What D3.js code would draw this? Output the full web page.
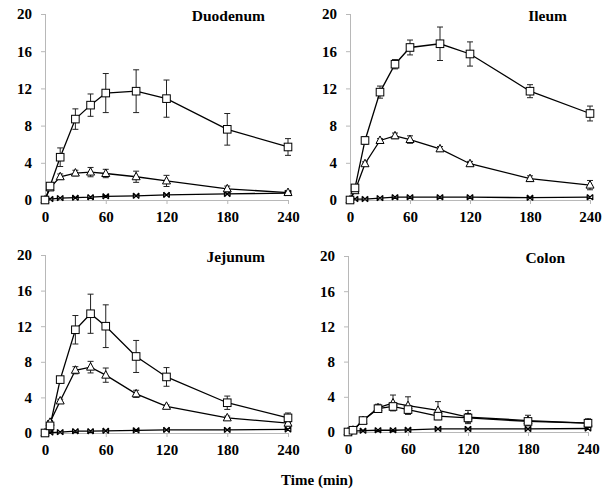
<!DOCTYPE html>
<html>
<head>
<meta charset="utf-8">
<script src="https://cdn.jsdelivr.net/npm/d3@7"></script>
<style>
  body { margin: 0; background: #fff; }
  svg text { font-family: "Liberation Serif", "Times New Roman", serif; font-weight: bold; }
</style>
</head>
<body>
<div id="graph"></div>
<script>
const times = [0, 5, 15, 30, 45, 60, 90, 120, 180, 240];
const xTicks = [0, 60, 120, 180, 240];
const yTicks = [0, 4, 8, 12, 16, 20];
const panelNames = ['Duodenum', 'Ileum', 'Jejunum', 'Colon'];

const duodenumSquare    = [0, 1.5, 4.6, 8.7, 10.2, 11.5, 11.7, 10.9, 7.6, 5.7];
const duodenumSquareErr = [0, 0.3, 1.0, 1.1, 1.2, 2.1, 2.3, 2.0, 1.7, 0.9];
const duodenumTri       = [0, 1.3, 2.5, 2.9, 3.0, 2.85, 2.5, 2.05, 1.2, 0.8];
const duodenumTriErr    = [0, 0.2, 0.3, 0.3, 0.5, 0.45, 0.6, 0.6, 0.3, 0.1];
const duodenumStar      = [0, 0.1, 0.2, 0.25, 0.3, 0.4, 0.45, 0.55, 0.65, 0.75];

const ileumSquare    = [0, 1.3, 6.4, 11.6, 14.6, 16.4, 16.8, 15.7, 11.7, 9.3];
const ileumSquareErr = [0, 0.2, 0.4, 0.65, 0.5, 0.8, 1.8, 1.3, 0.7, 0.8];
const ileumTri       = [0, 1.0, 3.9, 6.4, 6.9, 6.5, 5.5, 3.9, 2.3, 1.6];
const ileumTriErr    = [0, 0.1, 0.2, 0.2, 0.3, 0.4, 0.25, 0.25, 0.3, 0.5];
const ileumStar      = [0, 0.1, 0.1, 0.2, 0.3, 0.3, 0.3, 0.3, 0.25, 0.3];

const jejunumSquare    = [0, 0.8, 6.0, 11.6, 13.4, 12.0, 8.6, 6.3, 3.4, 1.7];
const jejunumSquareErr = [0, 0.5, 0.3, 1.6, 2.2, 2.4, 1.8, 1.05, 0.75, 0.55];
const jejunumTri       = [0, 1.2, 3.6, 7.05, 7.4, 6.5, 4.4, 3.0, 1.7, 1.1];
const jejunumTriErr    = [0, 0.2, 0.2, 0.4, 0.65, 0.8, 0.4, 0.15, 0.2, 0.3];
const jejunumStar      = [0, 0.05, 0.1, 0.2, 0.2, 0.25, 0.3, 0.35, 0.35, 0.4];

const colonSquare    = [0, 0.2, 1.3, 2.65, 2.9, 2.55, 1.8, 1.6, 1.2, 1.0];
const colonSquareErr = [0, 0.1, 0.1, 0.3, 0.4, 0.45, 0.4, 0.5, 0.3, 0.3];
const colonTri       = [0, 0.2, 1.3, 2.75, 3.3, 3.0, 2.45, 1.7, 1.3, 1.0];
const colonTriErr    = [0, 0.1, 0.1, 0.4, 0.9, 1.0, 1.0, 0.75, 0.6, 0.5];
const colonStar      = [0, 0.1, 0.15, 0.2, 0.2, 0.25, 0.35, 0.35, 0.35, 0.4];

const panelData = [
  { square: duodenumSquare, squareErr: duodenumSquareErr, tri: duodenumTri, triErr: duodenumTriErr, star: duodenumStar },
  { square: ileumSquare, squareErr: ileumSquareErr, tri: ileumTri, triErr: ileumTriErr, star: ileumStar },
  { square: jejunumSquare, squareErr: jejunumSquareErr, tri: jejunumTri, triErr: jejunumTriErr, star: jejunumStar },
  { square: colonSquare, squareErr: colonSquareErr, tri: colonTri, triErr: colonTriErr, star: colonStar }
];

// pixel frame of each panel: [x0, x1, yBottom, yTop]
const frames = [
  [45, 288, 200, 14],
  [350, 590, 200, 14],
  [45, 288, 433, 255],
  [348, 588, 432, 256]
];

const svg = d3.select('#graph')
  .append('svg')
    .attr('width', 608)
    .attr('height', 489);

panelNames.forEach((name, i) => {
  const f = frames[i], d = panelData[i];
  const x = d3.scaleLinear().domain([0, 240]).range([f[0], f[1]]);
  const y = d3.scaleLinear().domain([0, 20]).range([f[2], f[3]]);
  const g = svg.append('g');

  const xAxis = g.append('g')
    .attr('transform', `translate(0,${f[2]})`)
    .call(d3.axisBottom(x).tickValues(xTicks).tickSize(4).tickPadding(7));
  const yAxis = g.append('g')
    .attr('transform', `translate(${f[0]},0)`)
    .call(d3.axisLeft(y).tickValues(yTicks).tickSize(4).tickPadding(9));

  [xAxis, yAxis].forEach(a => {
    a.attr('font-family', null).attr('font-size', null);
    a.select('.domain').attr('stroke', '#b8b8b8').attr('stroke-width', 1);
    a.selectAll('.tick line').attr('stroke', '#b8b8b8');
    a.selectAll('.tick text').attr('fill', '#000').style('font-size', '15px');
  });
  yAxis.select('.domain').attr('d', `M0.5,${f[2]}V${f[3]}`);
  xAxis.select('.domain').attr('d', `M${f[0]},0.5H${f[1]}`);

  g.append('text')
    .attr('x', f[1] - 23)
    .attr('y', f[3] + 7)
    .attr('text-anchor', 'end')
    .style('font-size', '15.5px')
    .text(name);

  const line = d3.line().x((v, j) => x(times[j])).y(v => y(v));
  [d.star, d.tri, d.square].forEach(s => {
    g.append('path').attr('d', line(s))
      .attr('fill', 'none').attr('stroke', '#000').attr('stroke-width', 1.3);
  });

  // error bars
  [[d.tri, d.triErr], [d.square, d.squareErr]].forEach(([s, e]) => {
    s.forEach((v, j) => {
      if (!e[j]) return;
      const cx = x(times[j]);
      g.append('path')
        .attr('d', `M${cx},${y(v - e[j])}V${y(v + e[j])}M${cx - 3},${y(v + e[j])}H${cx + 3}M${cx - 3},${y(v - e[j])}H${cx + 3}`)
        .attr('fill', 'none').attr('stroke', '#222').attr('stroke-width', 1);
    });
  });

  // star markers
  d.star.forEach((v, j) => {
    const cx = x(times[j]), cy = y(v), r = 2.8;
    g.append('path')
      .attr('d', `M${cx - r},${cy - r}L${cx + r},${cy + r}M${cx - r},${cy + r}L${cx + r},${cy - r}M${cx - r},${cy - r}V${cy + r}M${cx + r},${cy - r}V${cy + r}`)
      .attr('fill', 'none').attr('stroke', '#000').attr('stroke-width', 1.2);
  });

  // triangle markers
  d.tri.forEach((v, j) => {
    const cx = x(times[j]), cy = y(v);
    g.append('path')
      .attr('d', `M${cx},${cy - 4.5}L${cx + 4},${cy + 3}L${cx - 4},${cy + 3}Z`)
      .attr('fill', '#fff').attr('stroke', '#000').attr('stroke-width', 1);
  });

  // square markers
  d.square.forEach((v, j) => {
    const cx = x(times[j]), cy = y(v);
    g.append('rect')
      .attr('x', cx - 3.8).attr('y', cy - 3.8)
      .attr('width', 7.6).attr('height', 7.6)
      .attr('fill', '#fff').attr('stroke', '#000').attr('stroke-width', 1);
  });
});

svg.append('text')
  .attr('x', 317)
  .attr('y', 485)
  .attr('text-anchor', 'middle')
  .style('font-size', '15px')
  .text('Time (min)');
</script>
</body>
</html>
